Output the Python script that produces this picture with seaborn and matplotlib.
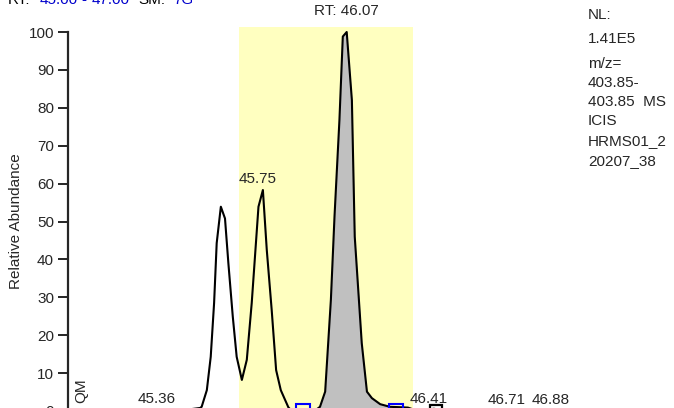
import numpy as np
import matplotlib
matplotlib.use("Agg")
import matplotlib.pyplot as plt
import seaborn as sns

# retention time (min) and relative abundance (%)
rt = [45.00, 45.30, 45.34, 45.36, 45.38, 45.42, 45.509, 45.515, 45.535, 45.550,
      45.563, 45.573, 45.589, 45.605, 45.618, 45.635, 45.650, 45.670, 45.689,
      45.708, 45.734, 45.751, 45.766, 45.785, 45.802, 45.820, 45.849, 45.862,
      45.90, 45.95, 45.971, 45.991, 46.013, 46.027, 46.046, 46.059, 46.074,
      46.094, 46.105, 46.132, 46.152, 46.171, 46.203, 46.241, 46.28, 46.31,
      46.335, 46.38, 46.41, 46.44, 46.60, 46.69, 46.71, 46.73, 46.86, 46.88,
      46.90, 47.00]
abundance = [0.0, 0.0, 0.2, 0.4, 0.2, 0.0, 0.8, 1.1, 5.5, 14.3,
             28.5, 44.3, 53.9, 50.8, 39.0, 24.9, 14.3, 8.2, 13.5,
             28.5, 53.9, 58.3, 42.5, 26.6, 10.8, 5.5, 1.0, 0.0,
             0.0, 0.0, 1.1, 5.1, 29.3, 51.3, 76.8, 98.8, 100.0,
             82.0, 46.0, 17.9, 5.1, 3.4, 1.8, 1.1, 1.0, 0.9,
             0.3, 0.3, 0.6, 0.2, 0.1, 0.1, 0.3, 0.1, 0.1, 0.3,
             0.1, 0.0]

peak_rt = [45.36, 45.75, 46.41, 46.71, 46.88]
peak_ab = [0.4, 58.3, 0.6, 0.3, 0.3]
base_rt = 46.07
base_ab = 100.0

window = (45.659, 46.330)          # highlighted range
integ = (45.906, 46.264)           # integration limits (blue squares)
info_lines = ["NL:", "1.41E5", "m/z=", "403.85-", "403.85  MS", "ICIS",
              "HRMS01_2", "20207_38"]
info_y = [15, 39, 64, 83, 102, 121, 141, 161]

sns.set_style("ticks")
plt.rcParams["font.family"] = ["Liberation Sans", "DejaVu Sans"]
plt.rcParams["font.size"] = 11

W, H = 674, 408
fig = plt.figure(figsize=(W / 100, H / 100), dpi=100)
ax = fig.add_axes([68 / W, -3 / H, 519 / W, 379 / H])

ax.axvspan(window[0], window[1], ymin=0, ymax=384 / 379, color="#FFFFC0",
           lw=0, zorder=0, clip_on=False)

t = np.array(rt)
a = np.array(abundance)
m = (t >= integ[0]) & (t <= integ[1])
ax.fill_between(t[m], a[m], color="#C0C0C0", lw=0, zorder=1)

sns.lineplot(x=rt, y=abundance, ax=ax, color="black", linewidth=1.5,
             zorder=3, clip_on=False)

ax.plot(list(integ), [0, 0], "s", mfc="none", mec="#0000FF", ms=10, mew=1.5,
        clip_on=False, zorder=4)
ax.plot([46.42], [0], "s", mfc="none", mec="black", ms=8, mew=1.6,
        clip_on=False, zorder=4)

for p, v in zip(peak_rt, peak_ab):
    dy = 7 if v > 10 else 6
    ax.annotate(f"{p:.2f}", xy=(p, v), xytext=(-5, dy), textcoords="offset pixels",
                ha="center", va="baseline", fontsize=11)
ax.annotate(f"RT: {base_rt:.2f}", xy=(base_rt, base_ab), xytext=(1, 17),
            textcoords="offset pixels", ha="center", va="baseline", fontsize=11,
            annotation_clip=False)

ax.set_xlim(45, 47)
ax.set_ylim(0, 100)
ax.set_yticks(range(0, 101, 10))
ax.set_xticks([])
ax.set_ylabel("Relative Abundance", fontsize=11, labelpad=4)
for s in ["top", "right", "bottom"]:
    ax.spines[s].set_visible(False)
ax.spines["left"].set_linewidth(1.6)
ax.tick_params(axis="y", length=7, width=1.4, pad=3, labelsize=11)
ax.set_facecolor("none")

ax.text(0.025, 0.053, "QM", transform=ax.transAxes, rotation=90,
        ha="center", va="center", fontsize=11)

for txt, yy in zip(info_lines, info_y):
    fig.text(588 / W, 1 - yy / H, txt, ha="left", va="center", fontsize=11)

# header line, mostly cut off at the top
for txt, xx, col in [("RT:", 8, "black"), ("45.00", 40, "#0000CC"),
                     ("-", 81, "#0000CC"), ("47.00", 92, "#0000CC"),
                     ("SM:", 138, "black"), ("7G", 173, "#0000CC")]:
    fig.text(xx / W, 1 - 4 / H, txt, ha="left", va="baseline", fontsize=11,
             color=col)

fig.savefig("out.png", dpi=100)
